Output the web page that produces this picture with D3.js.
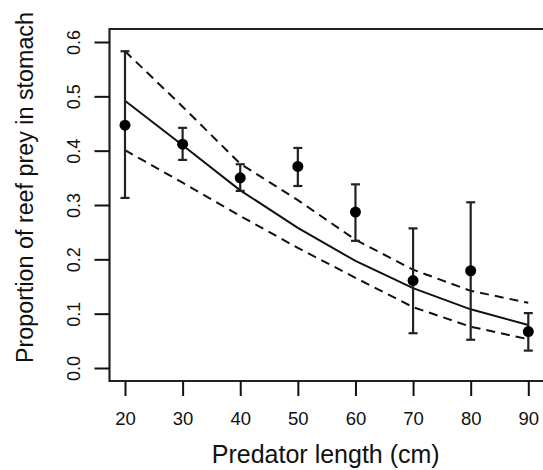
<!DOCTYPE html>
<html lang="en">
<head>
    <meta charset="UTF-8">
    <title>Reef prey proportion</title>
    <script src="https://cdnjs.cloudflare.com/ajax/libs/d3/7.8.5/d3.min.js"></script>
    <style>
        html, body { margin: 0; padding: 0; background: #fff; }
        svg { display: block; font-family: "Liberation Sans", Arial, sans-serif; }
    </style>
</head>
<body>
<svg id="chart" width="543" height="470"></svg>

<script>
    // predator length classes (cm)
    const lengths = [20, 30, 40, 50, 60, 70, 80, 90];

    // observed proportions with error bars
    const observed = [0.447, 0.412, 0.350, 0.371, 0.287, 0.161, 0.179, 0.067];
    const obsLower = [0.313, 0.383, 0.326, 0.335, 0.234, 0.064, 0.052, 0.032];
    const obsUpper = [0.583, 0.442, 0.375, 0.405, 0.338, 0.257, 0.305, 0.101];

    // fitted curve and confidence band
    const fitted = [0.492, 0.410, 0.327, 0.258, 0.197, 0.147, 0.108, 0.079];
    const fitUpper = [0.583, 0.481, 0.376, 0.309, 0.236, 0.181, 0.142, 0.120];
    const fitLower = [0.401, 0.341, 0.280, 0.221, 0.166, 0.112, 0.076, 0.053];

    const xTicks = [20, 30, 40, 50, 60, 70, 80, 90];
    const yTicks = [0.0, 0.1, 0.2, 0.3, 0.4, 0.5, 0.6];

    const svg = d3.select("#chart");

    const box = {left: 109.5, top: 29, bottom: 381, right: 560};

    const x = d3.scaleLinear().domain([20, 90]).range([125, 528.3]);
    const y = d3.scaleLinear().domain([0, 0.6]).range([368, 42]);

    const ink = "#111";

    // plot frame (right side runs off the image)
    svg.append("path")
        .attr("d", `M${box.right},${box.top}H${box.left}V${box.bottom}H${box.right}`)
        .attr("fill", "none")
        .attr("stroke", "#222")
        .attr("stroke-width", 2.2);

    // x axis
    const xAxis = svg.append("g")
        .attr("transform", `translate(0,${box.bottom})`)
        .call(d3.axisBottom(x).tickValues(xTicks).tickSize(15).tickPadding(16).tickFormat(d3.format("d")));
    xAxis.select(".domain").remove();
    xAxis.selectAll(".tick line").attr("stroke", ink).attr("stroke-width", 2);
    xAxis.selectAll(".tick text")
        .attr("fill", ink)
        .attr("font-size", 18.5)
        .attr("font-family", "Liberation Sans, Arial, sans-serif")
        .attr("dy", "0.71em");

    // y axis (labels rotated, R style)
    const yAxis = svg.append("g")
        .attr("transform", `translate(${box.left},0)`)
        .call(d3.axisLeft(y).tickValues(yTicks).tickSize(15).tickFormat(d3.format(".1f")));
    yAxis.select(".domain").remove();
    yAxis.selectAll(".tick line").attr("stroke", ink).attr("stroke-width", 2);
    yAxis.selectAll(".tick text")
        .attr("fill", ink)
        .attr("font-size", 18)
        .attr("font-family", "Liberation Sans, Arial, sans-serif")
        .attr("x", null)
        .attr("dy", null)
        .attr("text-anchor", "middle")
        .attr("transform", "translate(-30,0) rotate(-90)");

    // axis titles
    svg.append("text")
        .attr("x", (box.left + 560) / 2 - 9)
        .attr("y", 463)
        .attr("text-anchor", "middle")
        .attr("font-size", 25)
        .attr("fill", ink)
        .text("Predator length (cm)");

    svg.append("text")
        .attr("transform", `translate(33,${(12 + 363) / 2}) rotate(-90)`)
        .attr("text-anchor", "middle")
        .attr("font-size", 23.3)
        .attr("fill", ink)
        .text("Proportion of reef prey in stomach");

    const line = d3.line()
        .x((d, i) => x(lengths[i]))
        .y(d => y(d));

    // fitted curve
    svg.append("path")
        .datum(fitted)
        .attr("d", line)
        .attr("fill", "none")
        .attr("stroke", ink)
        .attr("stroke-width", 2);

    // confidence band
    [fitUpper, fitLower].forEach(band => {
        svg.append("path")
            .datum(band)
            .attr("d", line)
            .attr("fill", "none")
            .attr("stroke", ink)
            .attr("stroke-width", 2)
            .attr("stroke-dasharray", "9,6");
    });

    // error bars
    const bars = svg.append("g").selectAll("g")
        .data(lengths)
        .enter()
        .append("g")
        .attr("stroke", "#222")
        .attr("stroke-width", 2.2);

    bars.append("line")
        .attr("x1", d => x(d)).attr("x2", d => x(d))
        .attr("y1", (d, i) => y(obsLower[i]))
        .attr("y2", (d, i) => y(obsUpper[i]));
    bars.append("line")
        .attr("x1", d => x(d) - 4.5).attr("x2", d => x(d) + 4.5)
        .attr("y1", (d, i) => y(obsUpper[i]))
        .attr("y2", (d, i) => y(obsUpper[i]));
    bars.append("line")
        .attr("x1", d => x(d) - 4.5).attr("x2", d => x(d) + 4.5)
        .attr("y1", (d, i) => y(obsLower[i]))
        .attr("y2", (d, i) => y(obsLower[i]));

    // observed points
    svg.append("g").selectAll("circle")
        .data(lengths)
        .enter()
        .append("circle")
        .attr("cx", d => x(d))
        .attr("cy", (d, i) => y(observed[i]))
        .attr("r", 5.5)
        .attr("fill", "#000");
</script>
</body>
</html>
